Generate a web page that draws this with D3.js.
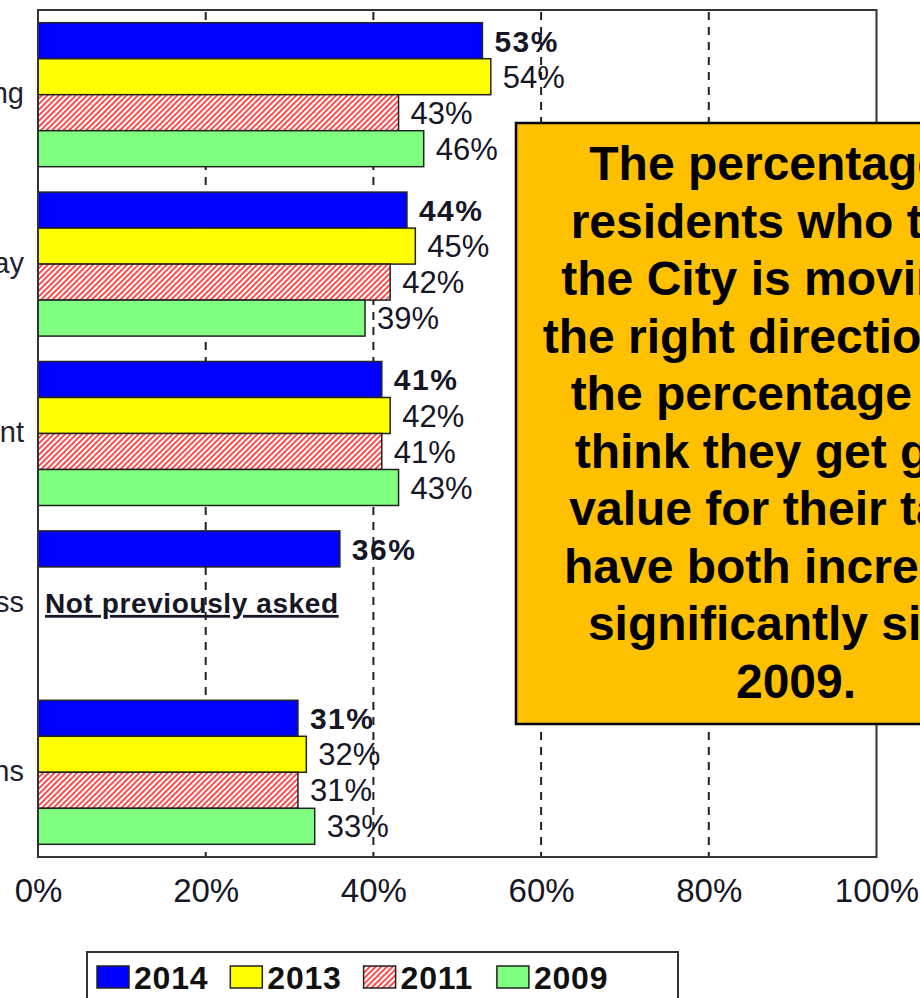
<!DOCTYPE html>
<html>
<head>
<meta charset="utf-8">
<script src="https://cdn.jsdelivr.net/npm/d3@7"></script>
<style>
  html, body { margin: 0; padding: 0; background: #fff; }
  svg { display: block; }
</style>
</head>
<body>
<svg id="chart" width="920" height="998"></svg>
<script>
// Survey items (category axis)
const categories = [
  "Overall direction that the City is taking",
  "Value that you receive for the taxes you pay",
  "Overall effectiveness of City government",
  "Transparency of the decision-making process",
  "Level of public involvement in local decisions"
];

// Survey years (series)
const years = ["2014", "2013", "2011", "2009"];

// Percent satisfied, one array per survey year (null = not asked that year)
const values2014 = [53, 44, 41, 36, 31];
const values2013 = [54, 45, 42, null, 32];
const values2011 = [43, 42, 41, null, 31];
const values2009 = [46, 39, 43, null, 33];

// Value axis ticks
const tickValues = [0, 20, 40, 60, 80, 100];

// Note for the item that is new in 2014
const notAskedNote = "Not previously asked";

// Callout text, one entry per line
const calloutLines = [
  "The percentage of",
  "residents who think",
  "the City is moving in",
  "the right direction and",
  "the percentage who",
  "think they get good",
  "value for their taxes",
  "have both increased",
  "significantly since",
  "2009."
];

const seriesValues = [values2014, values2013, values2011, values2009];
const FONT = "'Liberation Sans', Arial, Helvetica, sans-serif";

const svg = d3.select("#chart");
const defs = svg.append("defs");

// Red diagonal hatch used for 2011
defs.append("pattern")
  .attr("id", "hatch2011")
  .attr("patternUnits", "userSpaceOnUse")
  .attr("width", 4)
  .attr("height", 4)
  .attr("patternTransform", "rotate(45)")
  .call(p => {
    p.append("rect").attr("width", 4).attr("height", 4).attr("fill", "#fff");
    p.append("line").attr("x1", 1).attr("y1", 0).attr("x2", 1).attr("y2", 4)
      .attr("stroke", "#ff1010").attr("stroke-width", 1.5);
  });

const fills = {
  "2014": "#0000ff",
  "2013": "#ffff00",
  "2011": "url(#hatch2011)",
  "2009": "#80ff80"
};

// Plot area
const plot = { left: 38, top: 10, right: 876.5, bottom: 857 };

const x = d3.scaleLinear().domain([0, 100]).range([plot.left, plot.right]);
const y = d3.scaleBand().domain(categories)
  .range([plot.top, plot.bottom])
  .paddingInner(0.15).paddingOuter(0.075);
const ySub = d3.scaleBand().domain(years).range([0, y.bandwidth()]);

// Dashed vertical gridlines
svg.append("g").selectAll("line")
  .data(tickValues.filter(t => t > 0 && t < 100))
  .join("line")
  .attr("x1", d => x(d)).attr("x2", d => x(d))
  .attr("y1", plot.top + 2).attr("y2", plot.bottom)
  .attr("stroke", "#222").attr("stroke-width", 2)
  .attr("stroke-dasharray", "8,7");

// Build flat record list
const records = [];
categories.forEach((c, i) => {
  years.forEach((yr, s) => {
    const v = seriesValues[s][i];
    if (v !== null) records.push({ cat: c, year: yr, value: v });
  });
});

// Bars
svg.append("g").selectAll("rect")
  .data(records)
  .join("rect")
  .attr("x", x(0))
  .attr("y", d => y(d.cat) + ySub(d.year))
  .attr("width", d => x(d.value) - x(0))
  .attr("height", ySub.bandwidth())
  .attr("fill", d => fills[d.year])
  .attr("stroke", "#222")
  .attr("stroke-width", 1.5);

// Plot frame
svg.append("rect")
  .attr("x", plot.left).attr("y", plot.top)
  .attr("width", plot.right - plot.left).attr("height", plot.bottom - plot.top)
  .attr("fill", "none").attr("stroke", "#333").attr("stroke-width", 2);

// Value labels
svg.append("g").selectAll("text")
  .data(records)
  .join("text")
  .attr("x", d => x(d.value) + 12)
  .attr("y", d => y(d.cat) + ySub(d.year) + ySub.bandwidth() / 2)
  .attr("dy", "0.36em")
  .attr("font-family", FONT)
  .attr("font-size", d => d.year === "2014" ? 30 : 31)
  .attr("font-weight", d => d.year === "2014" ? "bold" : "normal")
  .attr("letter-spacing", d => d.year === "2014" ? 1.5 : 0)
  .attr("fill", "#161626")
  .text(d => d.value + "%");

// "Not previously asked" note for the new item
const newCat = categories[values2013.findIndex(v => v === null)];
svg.append("text")
  .attr("x", x(0) + 7)
  .attr("y", y(newCat) + y.bandwidth() / 2 + 10)
  .attr("font-family", FONT)
  .attr("font-size", 28)
  .attr("font-weight", "bold")
  .attr("letter-spacing", 0.6)
  .attr("text-decoration", "underline")
  .attr("fill", "#161626")
  .text(notAskedNote);

// Category labels (right-aligned against the axis)
svg.append("g").selectAll("text")
  .data(categories)
  .join("text")
  .attr("x", 24)
  .attr("y", d => y(d) + y.bandwidth() / 2)
  .attr("dy", "0.3em")
  .attr("text-anchor", "end")
  .attr("font-family", FONT)
  .attr("font-size", 29)
  .attr("fill", "#1e2230")
  .text(d => d);

// Value axis labels
const xAxis = d3.axisBottom(x)
  .tickValues(tickValues)
  .tickSize(0)
  .tickPadding(22)
  .tickFormat(d => d + "%");
svg.append("g")
  .attr("transform", `translate(0,${plot.bottom})`)
  .call(xAxis)
  .call(g => g.select(".domain").remove())
  .call(g => g.selectAll("text")
    .attr("font-family", FONT)
    .attr("font-size", 33)
    .attr("fill", "#161626"));

// Callout box
const callout = { x: 516, y: 123, w: 560, h: 601 };
svg.append("rect")
  .attr("x", callout.x).attr("y", callout.y)
  .attr("width", callout.w).attr("height", callout.h)
  .attr("fill", "#ffc000").attr("stroke", "#000").attr("stroke-width", 2.5);
svg.append("text")
  .attr("font-family", FONT)
  .attr("font-size", 48)
  .attr("font-weight", "bold")
  .attr("fill", "#000")
  .attr("text-anchor", "middle")
  .selectAll("tspan")
  .data(calloutLines)
  .join("tspan")
  .attr("x", callout.x + callout.w / 2)
  .attr("y", (d, i) => 180 + i * 57.5)
  .text(d => d);

// Legend
const legend = svg.append("g");
legend.append("rect")
  .attr("x", 87).attr("y", 952).attr("width", 591).attr("height", 80)
  .attr("fill", "#fff").attr("stroke", "#333").attr("stroke-width", 2);
const item = legend.selectAll("g.item")
  .data(years)
  .join("g")
  .attr("class", "item")
  .attr("transform", (d, i) => `translate(${97 + i * 133.3},966)`);
item.append("rect")
  .attr("width", 32).attr("height", 22)
  .attr("fill", d => fills[d])
  .attr("stroke", "#222").attr("stroke-width", 1.5);
item.append("text")
  .attr("x", 37).attr("y", 23)
  .attr("font-family", FONT)
  .attr("font-size", 32)
  .attr("font-weight", "bold")
  .attr("letter-spacing", 0.8)
  .attr("fill", "#111")
  .text(d => d);
</script>
</body>
</html>
